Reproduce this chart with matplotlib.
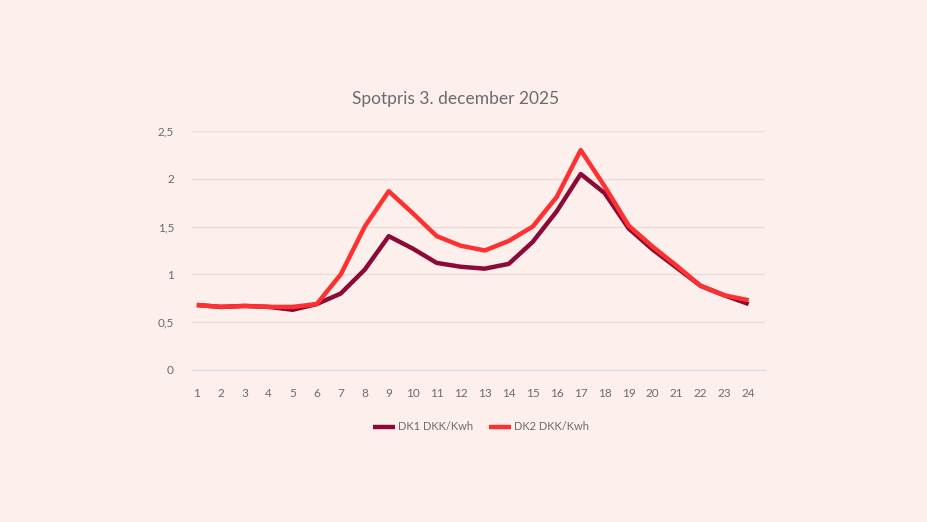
#!/usr/bin/env python3
import matplotlib
matplotlib.use("Agg")
import matplotlib.pyplot as plt
from matplotlib.ticker import FuncFormatter

hours = list(range(1, 25))
dk1 = [0.68, 0.66, 0.67, 0.66, 0.63, 0.69, 0.80, 1.05, 1.40, 1.27, 1.12, 1.08,
       1.06, 1.11, 1.34, 1.66, 2.05, 1.85, 1.48, 1.26, 1.07, 0.88, 0.78, 0.69]
dk2 = [0.68, 0.66, 0.67, 0.66, 0.66, 0.69, 1.00, 1.50, 1.87, 1.64, 1.40, 1.30,
       1.25, 1.35, 1.50, 1.81, 2.30, 1.92, 1.51, 1.29, 1.09, 0.88, 0.78, 0.73]
yticks = [0, 0.5, 1, 1.5, 2, 2.5]

bg = '#fcefec'
text_col = '#6b6b6b'
plt.rcParams['font.family'] = ['Lato', 'DejaVu Sans']

fig = plt.figure(figsize=(9.28, 5.22), dpi=100, facecolor=bg)
ax = fig.add_axes([192 / 928, 1 - 370 / 522, (765 - 192) / 928, (370 - 131) / 522])
ax.set_facecolor(bg)

ax.plot(hours, dk1, color='#8b0a38', lw=3.2, label='DK1 DKK/Kwh', solid_capstyle='butt', zorder=3)
ax.plot(hours, dk2, color='#ff3030', lw=3.2, label='DK2 DKK/Kwh', solid_capstyle='butt', zorder=4)

ax.set_xlim(0.8, 24.68)
ax.set_ylim(0, 2.5)
ax.set_xticks(hours)
ax.set_yticks(yticks)
ax.yaxis.set_major_formatter(FuncFormatter(lambda v, p: f'{v:g}'.replace('.', ',')))
ax.grid(axis='y', color='#eadcda', lw=1)
ax.set_axisbelow(True)
for s in ['top', 'right', 'left']:
    ax.spines[s].set_visible(False)
ax.spines['bottom'].set_color('#d8dce6')
ax.tick_params(length=0, colors=text_col, labelsize=8.5)
ax.tick_params(axis='x', pad=13)
ax.tick_params(axis='y', pad=13)

fig.text(0.491, 1 - 99 / 522, 'Spotpris 3. december 2025', ha='center', va='center',
         fontsize=12.5, color=text_col)
fig.legend(loc='center', bbox_to_anchor=(0.518, 1 - 427 / 522), ncol=2, frameon=False,
           fontsize=8, labelcolor=text_col, handlelength=2.0, columnspacing=1.4,
           handletextpad=0.25)

fig.savefig('out.png', dpi=100, facecolor=bg)
